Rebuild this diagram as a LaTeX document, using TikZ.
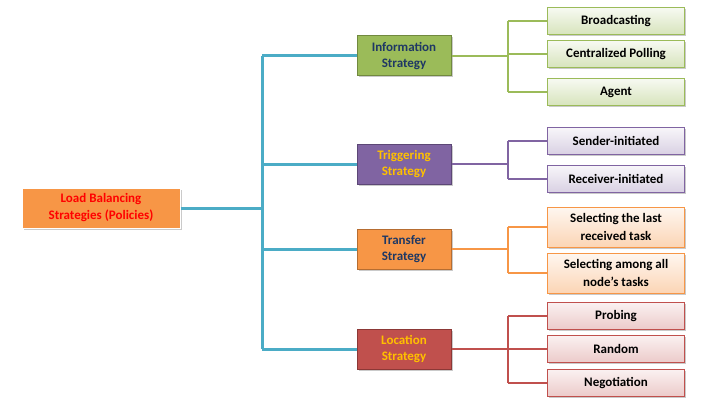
\documentclass[tikz,border=0pt]{standalone}
\usepackage{fontspec}
\setmainfont{Carlito}
\usetikzlibrary{shadows}
\definecolor{trunkc}{HTML}{4BACC6}
\definecolor{grn}{HTML}{9BBB59}
\definecolor{grnd}{HTML}{71893F}
\definecolor{pur}{HTML}{8064A2}
\definecolor{purd}{HTML}{5C4776}
\definecolor{org}{HTML}{F79646}
\definecolor{orgd}{HTML}{B66D31}
\definecolor{red2}{HTML}{C0504D}
\definecolor{redd}{HTML}{8C3836}
\definecolor{navy}{HTML}{1F3864}
\definecolor{gold}{HTML}{FFC000}
\begin{document}
\begin{tikzpicture}[x=1pt,y=-1pt,
  shad/.style={drop shadow={shadow xshift=1.5pt,shadow yshift=-1.5pt,opacity=0.35,fill=black!60}},
  midbox/.style={draw,line width=1pt,minimum width=94pt,minimum height=40pt,align=center,font=\bfseries\fontsize{13}{16.5}\selectfont,inner sep=1pt,shad},
  leaf/.style={draw,line width=0.8pt,minimum width=137pt,minimum height=27pt,align=center,font=\bfseries\fontsize{13}{18}\selectfont,inner sep=1pt,shad},
  gleaf/.style={leaf,draw=grn,top color=grn!8,bottom color=grn!40},
  pleaf/.style={leaf,draw=pur,top color=pur!6,bottom color=pur!30},
  oleaf/.style={leaf,draw=org,top color=org!8,bottom color=org!40},
  rleaf/.style={leaf,draw=red2,top color=red2!8,bottom color=red2!30},
  trunk/.style={draw=trunkc,line width=3pt},
  br/.style={line width=1.8pt}
]
\useasboundingbox (0,0) rectangle (706,417);
% root
\node[draw=white,line width=1pt,fill=org,minimum width=158pt,minimum height=40pt,align=center,
  font=\bfseries\fontsize{13}{17}\selectfont,text=red,shad,inner sep=1pt] (root) at (101,208) {Load Balancing\\Strategies (Policies)};
% level 2
\node[midbox,fill=grn,draw=grnd,text=navy] (info) at (404,56) {Information\\Strategy};
\node[midbox,fill=pur,draw=purd,text=gold] (trig) at (404,164) {Triggering\\Strategy};
\node[midbox,fill=org,draw=orgd,text=navy] (tran) at (404,249) {Transfer\\Strategy};
\node[midbox,fill=red2,draw=redd,text=gold] (loc) at (404,349) {Location\\Strategy};
% leaves
\node[gleaf] (b1) at (616,21) {Broadcasting};
\node[gleaf] (b2) at (616,54) {Centralized Polling};
\node[gleaf] (b3) at (616,92) {Agent};
\node[pleaf] (p1) at (616,141) {Sender-initiated};
\node[pleaf] (p2) at (616,179) {Receiver-initiated};
\node[oleaf,minimum height=40pt] (o1) at (616,227) {Selecting the last\\received task};
\node[oleaf,minimum height=40pt] (o2) at (616,273) {Selecting among all\\node's tasks};
\node[rleaf] (r1) at (616,316) {Probing};
\node[rleaf] (r2) at (616,349) {Random};
\node[rleaf] (r3) at (616,383) {Negotiation};
% trunk
\coordinate (t) at (262,0);
\coordinate (s) at (508,0);
\draw[trunk] (t |- info.west) -- (t |- loc.west);
\draw[trunk] (root.east) -- (root.east -| t);
\foreach \n in {info,trig,tran,loc} \draw[trunk] (t |- \n.west) -- (\n.west);
% sub branches
\draw[br,grn] (info.east) -- (info.east -| s);
\draw[br,grn] (s |- b1.west) -- (s |- b3.west);
\foreach \n in {b1,b2,b3} \draw[br,grn] (s |- \n.west) -- (\n.west);
\draw[br,pur] (trig.east) -- (trig.east -| s);
\draw[br,pur] (s |- p1.west) -- (s |- p2.west);
\foreach \n in {p1,p2} \draw[br,pur] (s |- \n.west) -- (\n.west);
\draw[br,org] (tran.east) -- (tran.east -| s);
\draw[br,org] (s |- o1.west) -- (s |- o2.west);
\foreach \n in {o1,o2} \draw[br,org] (s |- \n.west) -- (\n.west);
\draw[br,red2] (loc.east) -- (loc.east -| s);
\draw[br,red2] (s |- r1.west) -- (s |- r3.west);
\foreach \n in {r1,r2,r3} \draw[br,red2] (s |- \n.west) -- (\n.west);
\end{tikzpicture}
\end{document}
